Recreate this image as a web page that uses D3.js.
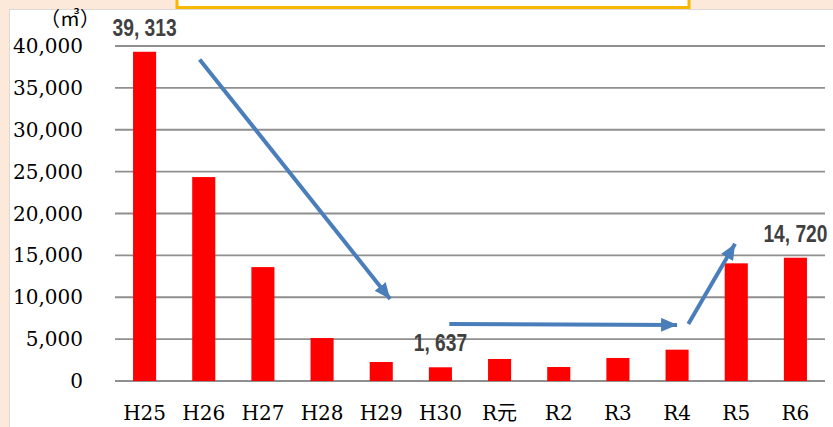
<!DOCTYPE html>
<html><head><meta charset="utf-8">
<script src="https://cdn.jsdelivr.net/npm/d3@7"></script>
<style>html,body{margin:0;padding:0;background:#fce9da;}svg{display:block;}</style>
</head><body>
<script>
const categories = ["H25","H26","H27","H28","H29","H30","R元","R2","R3","R4","R5","R6"];
const values = [39313, 24350, 13600, 5130, 2270, 1637, 2630, 1670, 2750, 3740, 14050, 14720];
const yTicks = [0,5000,10000,15000,20000,25000,30000,35000,40000];
const labelled = [{cat:"H25", text:"39, 313"}, {cat:"H30", text:"1, 637"}, {cat:"R6", text:"14, 720"}];
// arrows: [fractional category index, value]
const arrows = [
  [[0.93, 38400], [4.15, 9800]],
  [[5.15, 6800], [9.0, 6700]],
  [[9.19, 6800], [9.98, 16400]]
];
const unitLabel = "（㎥）";

const W = 833, H = 427;
const svg = d3.select("body").append("svg").attr("width", W).attr("height", H);
svg.append("rect").attr("width", W).attr("height", H).attr("fill", "#fce9da");
svg.append("rect").attr("x", 9.5).attr("y", 9.5).attr("width", W).attr("height", H)
  .attr("fill", "#fff").attr("stroke", "#d9d9d9").attr("stroke-width", 1);
// yellow header box
svg.append("rect").attr("x", 177).attr("y", -10).attr("width", 512).attr("height", 17.5)
  .attr("fill", "#fff").attr("stroke", "#f6b700").attr("stroke-width", 3);

const x0 = 115, x1 = 825;
const x = d3.scaleBand().domain(categories).range([x0, x1]).paddingInner(0.61).paddingOuter(0.305);
const y = d3.scaleLinear().domain([0, 40000]).range([381, 46]);
const step = x.step();
const xi = d3.scaleLinear().domain([0, 1]).range([x(categories[0]) + x.bandwidth()/2, x(categories[0]) + x.bandwidth()/2 + step]);

// gridlines
svg.append("g").selectAll("line").data(yTicks).join("line")
  .attr("x1", x0).attr("x2", x1).attr("y1", d => y(d)).attr("y2", d => y(d))
  .attr("stroke", "#8f8f8f").attr("stroke-width", 1.8);

// y axis labels
const fmt = d3.format(",");
svg.append("g").selectAll("text").data(yTicks).join("text")
  .attr("x", 83).attr("y", d => y(d)).attr("dy", "0.35em")
  .attr("text-anchor", "end").attr("font-family", "DejaVu Serif").attr("font-size", 20)
  .attr("fill", "#000").text(d => fmt(d));

svg.append("text").attr("x", 70).attr("y", 26).attr("text-anchor", "middle")
  .attr("font-family", "Noto Sans CJK JP").attr("font-size", 20).attr("fill", "#000").text(unitLabel);

// bars
svg.append("g").selectAll("rect").data(categories).join("rect")
  .attr("x", d => x(d)).attr("width", x.bandwidth())
  .attr("y", (d,i) => y(values[i])).attr("height", (d,i) => y(0) - y(values[i]))
  .attr("fill", "#ff0000");

// x labels
svg.append("g").selectAll("text").data(categories).join("text")
  .attr("x", d => x(d) + x.bandwidth()/2).attr("y", 420).attr("text-anchor", "middle")
  .attr("font-family", "DejaVu Serif, Noto Sans CJK JP").attr("font-size", 20).attr("fill", "#000")
  .text(d => d);

// data labels
svg.append("g").selectAll("text").data(labelled).join("text")
  .attr("transform", d => {
    const cx = x(d.cat) + x.bandwidth()/2;
    const cy = y(values[categories.indexOf(d.cat)]) - 16;
    return `translate(${cx},${cy}) scale(0.8,1)`;
  })
  .attr("text-anchor", "middle").attr("font-family", "Liberation Sans").attr("font-weight", "bold")
  .attr("font-size", 24).attr("fill", "#404040")
  .text(d => d.text);

// arrows
const defs = svg.append("defs");
defs.append("marker").attr("id", "ah").attr("markerUnits", "userSpaceOnUse")
  .attr("viewBox", "0 0 16 14").attr("refX", 16).attr("refY", 7)
  .attr("markerWidth", 16).attr("markerHeight", 14).attr("orient", "auto")
  .append("path").attr("d", "M0,0 L16,7 L0,14 Z").attr("fill", "#4a7ebb");
svg.append("g").selectAll("line").data(arrows).join("line")
  .attr("x1", d => xi(d[0][0])).attr("y1", d => y(d[0][1]))
  .attr("x2", d => xi(d[1][0])).attr("y2", d => y(d[1][1]))
  .attr("stroke", "#4a7ebb").attr("stroke-width", 4).attr("marker-end", "url(#ah)");
</script>
</body></html>
